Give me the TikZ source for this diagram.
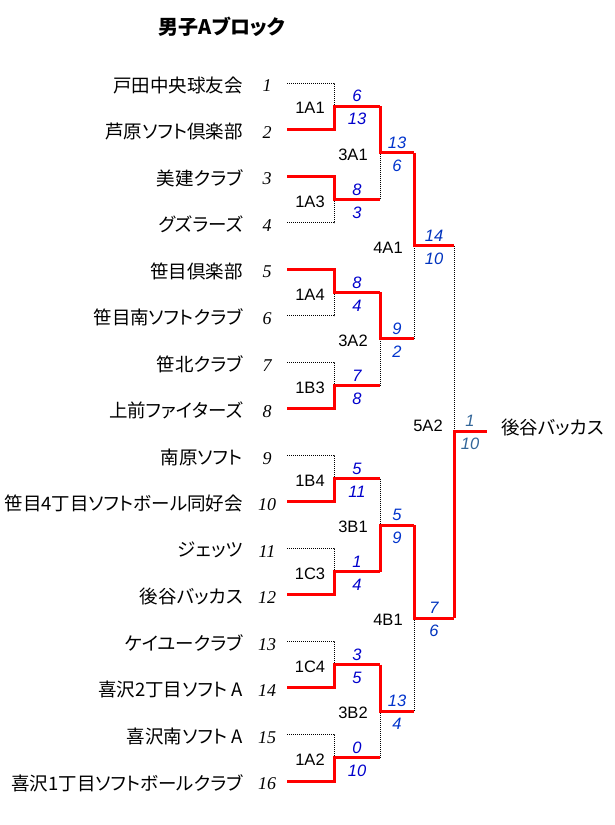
\documentclass[tikz,border=0pt]{standalone}
\usepackage{fontspec}
\setmainfont{Liberation Sans}
\newfontfamily\jp{Noto Sans CJK JP}[RawFeature=+palt]
\newfontfamily\numserif{Liberation Serif}
\definecolor{cA}{RGB}{0,0,204}
\definecolor{cB}{RGB}{0,51,204}
\definecolor{cC}{RGB}{0,51,190}
\definecolor{cD}{RGB}{51,102,153}
\newcommand\bout[3]{%
  \draw[lose] (#3) -| (#1);
  \draw[win] (#2) -| (#1) -- (#1o);}
\newcommand\res[6]{%
  \node[sc,text=#6] (#1t) at (#2,#3-10) {#4};
  \node[sc,text=#6] (#1b) at (#2,#3+13) {#5};}
\begin{document}
\begin{tikzpicture}[x=1pt,y=-1pt,
  win/.style={draw=red,line width=3pt,line join=miter},
  lose/.style={draw=black,line width=1pt,dash pattern=on 1pt off 1pt},
  team/.style={font=\jp\fontsize{18.5}{20}\selectfont,anchor=east,inner sep=0pt},
  seed/.style={font=\numserif\itshape\fontsize{18}{20}\selectfont,inner sep=0pt},
  lbl/.style={font=\fontsize{16.5}{18}\selectfont,inner sep=0pt},
  sc/.style={font=\itshape\fontsize{16.5}{18}\selectfont,inner sep=0pt}]
\useasboundingbox (0,0) rectangle (615,825);
\node[font=\jp\bfseries\fontsize{20}{22}\selectfont,inner sep=0pt] (title) at (222,27) {男子Aブロック};
% teams
\foreach \i/\n in {1/戸田中央球友会,2/芦原ソフト倶楽部,3/美建クラブ,4/グズラーズ,5/笹目倶楽部,6/笹目南ソフトクラブ,7/笹北クラブ,8/上前ファイターズ,9/南原ソフト,10/笹目4丁目ソフトボール同好会,11/ジェッツ,12/後谷バッカス,13/ケイユークラブ,14/喜沢2丁目ソフト A,15/喜沢南ソフト A,16/喜沢1丁目ソフトボールクラブ}{
  \pgfmathsetmacro\yy{83+(\i-1)*46.533}
  \coordinate (t\i) at (287,\yy);
  \node[team] (n\i) at (243,\yy+2) {\n};
  \node[seed] (k\i) at (267,\yy+3) {\i};
}
% junctions
\foreach \m/\y in {1A1/106.3,1A3/199.4,1A4/292.4,1B3/385.5,1B4/478.5,1C3/571.6,1C4/664.7,1A2/757.8}{
  \coordinate (m\m) at (334,\y); \coordinate (m\m o) at (380,\y);
  \node[lbl] (l\m) at (310,\y+2) {\m};}
\foreach \m/\y in {3A1/152.8,3A2/338.9,3B1/525.1,3B2/711.2}{
  \coordinate (m\m) at (380,\y); \coordinate (m\m o) at (414,\y);
  \node[lbl] (l\m) at (353,\y+2) {\m};}
\foreach \m/\y in {4A1/245.9,4B1/618.1}{
  \coordinate (m\m) at (414,\y); \coordinate (m\m o) at (454,\y);
  \node[lbl] (l\m) at (388,\y+2) {\m};}
\coordinate (m5A2) at (454,431); \coordinate (m5A2o) at (487,431);
\node[lbl] (l5A2) at (428,426) {5A2};
% round 1
\bout{m1A1}{t2}{t1}
\bout{m1A3}{t3}{t4}
\bout{m1A4}{t5}{t6}
\bout{m1B3}{t8}{t7}
\bout{m1B4}{t10}{t9}
\bout{m1C3}{t12}{t11}
\bout{m1C4}{t14}{t13}
\bout{m1A2}{t16}{t15}
% round 2
\bout{m3A1}{m1A1o}{m1A3o}
\bout{m3A2}{m1A4o}{m1B3o}
\bout{m3B1}{m1C3o}{m1B4o}
\bout{m3B2}{m1C4o}{m1A2o}
% round 3
\bout{m4A1}{m3A1o}{m3A2o}
\bout{m4B1}{m3B1o}{m3B2o}
% final
\bout{m5A2}{m4B1o}{m4A1o}
% scores
\res{s1A1}{357}{106.3}{6}{13}{cA}
\res{s1A3}{357}{199.4}{8}{3}{cA}
\res{s1A4}{357}{292.4}{8}{4}{cA}
\res{s1B3}{357}{385.5}{7}{8}{cA}
\res{s1B4}{357}{478.5}{5}{11}{cA}
\res{s1C3}{357}{571.6}{1}{4}{cA}
\res{s1C4}{357}{664.7}{3}{5}{cA}
\res{s1A2}{357}{757.8}{0}{10}{cA}
\res{s3A1}{397}{152.8}{13}{6}{cB}
\res{s3A2}{397}{338.9}{9}{2}{cB}
\res{s3B1}{397}{525.1}{5}{9}{cB}
\res{s3B2}{397}{711.2}{13}{4}{cB}
\res{s4A1}{434}{245.9}{14}{10}{cC}
\res{s4B1}{434}{618.1}{7}{6}{cC}
\res{s5A2}{470}{431}{1}{10}{cD}
\node[team,anchor=west] (champ) at (501,427) {後谷バッカス};
\end{tikzpicture}
\end{document}
